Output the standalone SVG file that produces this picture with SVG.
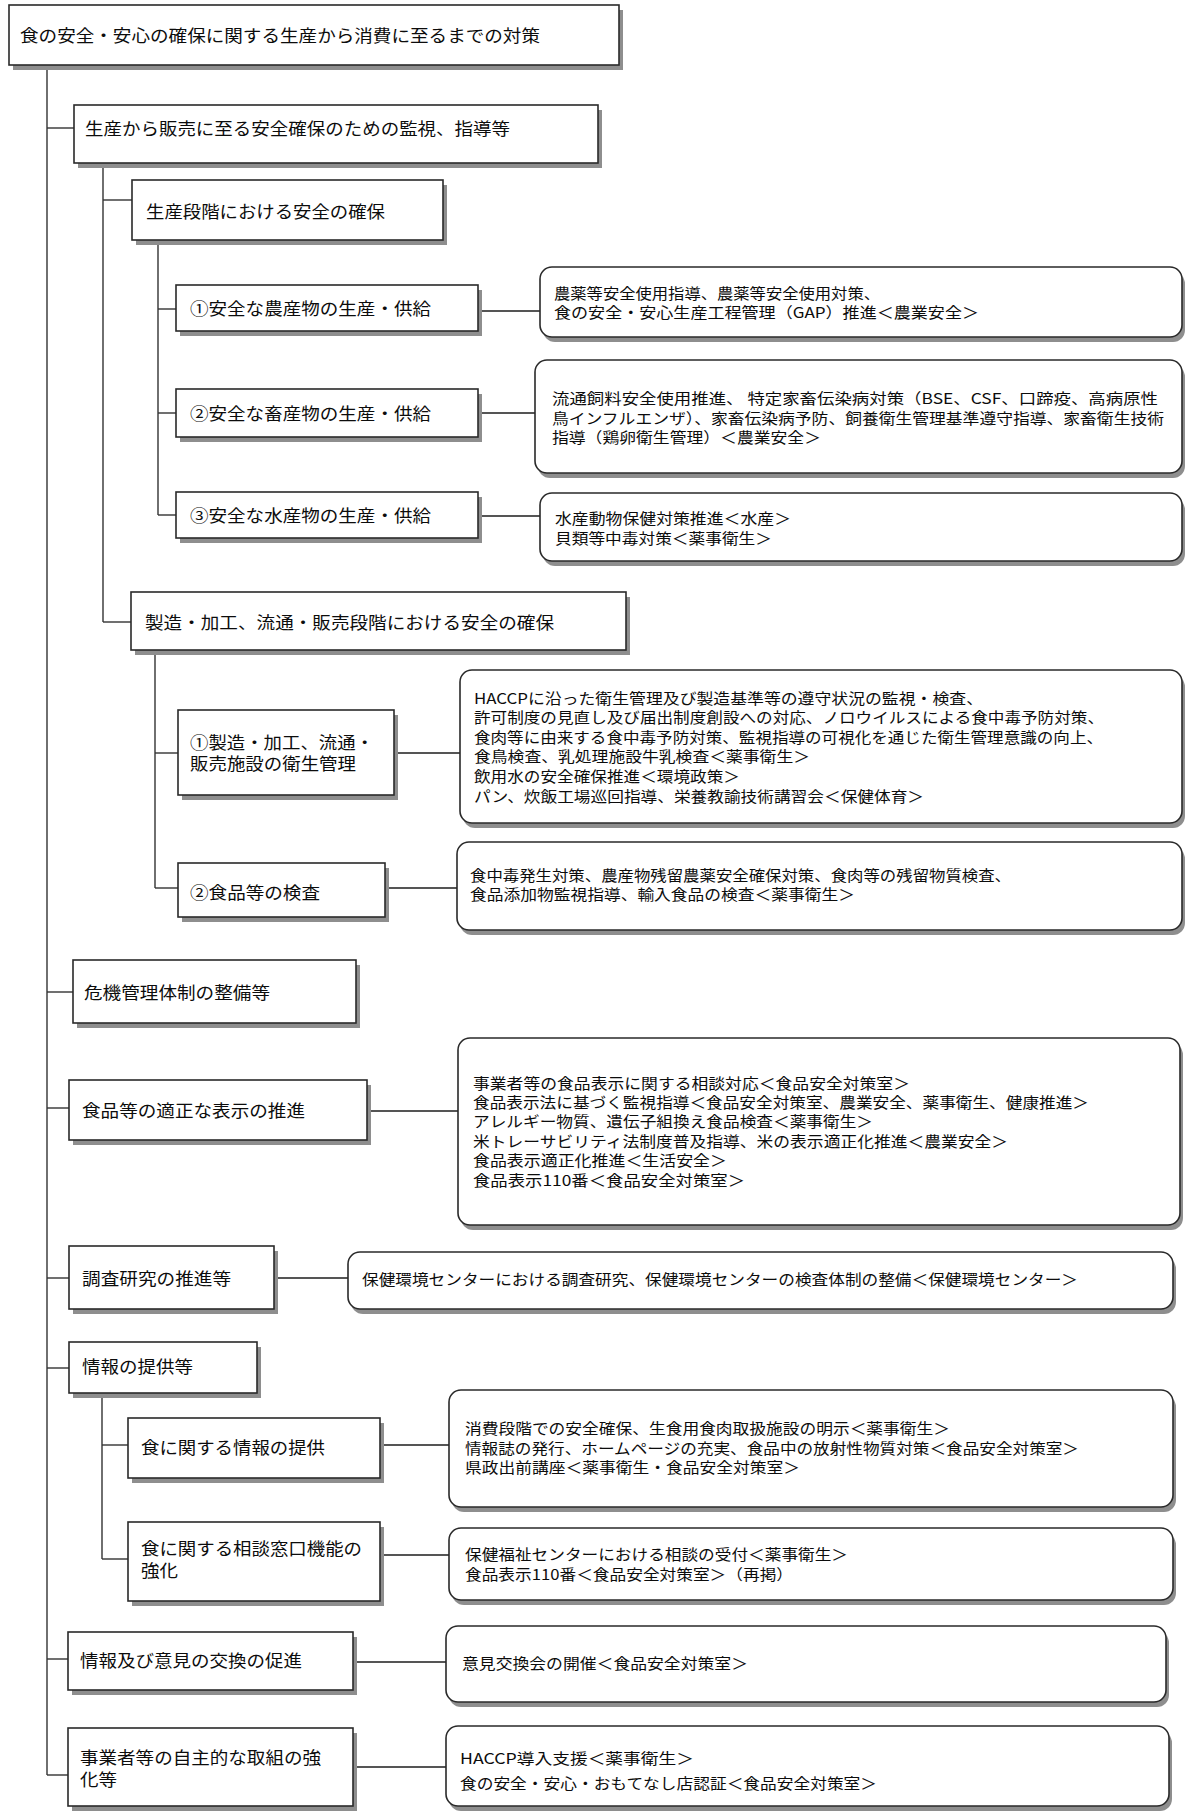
<svg xmlns="http://www.w3.org/2000/svg" width="1186" height="1811" viewBox="0 0 1186 1811">
<defs>
<style>
.bg{fill:#fff}
.sh{fill:#8e8e8e}
.b{fill:#fff;stroke:#2a2a2a;stroke-width:1.6}
.t{font-family:"Noto Sans CJK JP","Noto Sans CJK SC",sans-serif;font-size:16.5px;fill:#0c0c0c;dominant-baseline:central}
.d{font-size:15px}
.c line{stroke:#333;stroke-width:1.4;fill:none}
.c line.g{stroke:#555;stroke-width:2}
</style>
</defs>
<rect class="bg" x="0" y="0" width="1186" height="1811"/>

<g id="connectors" class="c">
<line x1="47" y1="65" x2="47" y2="1775"/>
<line x1="47" y1="128" x2="74" y2="128"/>
<line x1="47" y1="992" x2="73" y2="992"/>
<line x1="47" y1="1108" x2="69" y2="1108"/>
<line x1="47" y1="1278" x2="69" y2="1278"/>
<line x1="47" y1="1368" x2="69" y2="1368"/>
<line x1="47" y1="1659" x2="68" y2="1659"/>
<line x1="47" y1="1775" x2="68" y2="1775"/>
<line x1="103" y1="163" x2="103" y2="622"/>
<line x1="103" y1="200" x2="132" y2="200"/>
<line x1="103" y1="622" x2="131" y2="622"/>
<line x1="158" y1="240" x2="158" y2="515"/>
<line x1="158" y1="309" x2="176" y2="309"/>
<line x1="158" y1="413" x2="176" y2="413"/>
<line x1="158" y1="515" x2="176" y2="515"/>
<line x1="155" y1="650" x2="155" y2="888"/>
<line x1="155" y1="753" x2="178" y2="753"/>
<line x1="155" y1="888" x2="178" y2="888"/>
<line x1="102" y1="1393" x2="102" y2="1559"/>
<line x1="102" y1="1445" x2="128" y2="1445"/>
<line x1="102" y1="1559" x2="128" y2="1559"/>
<line class="g" x1="482" y1="311" x2="540" y2="311"/>
<line class="g" x1="482" y1="413" x2="535" y2="413"/>
<line class="g" x1="482" y1="516" x2="540" y2="516"/>
<line class="g" x1="398" y1="753" x2="460" y2="753"/>
<line class="g" x1="389" y1="888" x2="457" y2="888"/>
<line class="g" x1="371" y1="1111" x2="458" y2="1111"/>
<line class="g" x1="278" y1="1278" x2="348" y2="1278"/>
<line class="g" x1="384" y1="1445" x2="449" y2="1445"/>
<line class="g" x1="384" y1="1555" x2="449" y2="1555"/>
<line class="g" x1="357" y1="1662" x2="446" y2="1662"/>
<line class="g" x1="357" y1="1767" x2="446" y2="1767"/>
</g>

<g id="n0"><rect class="sh" x="13" y="10" width="610" height="60"/><rect class="b" x="9" y="5" width="610" height="60"/>
<text class="t" x="20" y="35" textLength="520" lengthAdjust="spacingAndGlyphs">食の安全・安心の確保に関する生産から消費に至るまでの対策</text></g>

<g id="n1"><rect class="sh" x="78" y="110" width="524" height="58"/><rect class="b" x="74" y="105" width="524" height="58"/>
<text class="t" x="85" y="128" textLength="425" lengthAdjust="spacingAndGlyphs">生産から販売に至る安全確保のための監視、指導等</text></g>

<g id="n2"><rect class="sh" x="136" y="185" width="311" height="60"/><rect class="b" x="132" y="180" width="311" height="60"/>
<text class="t" x="146" y="211" textLength="239" lengthAdjust="spacingAndGlyphs">生産段階における安全の確保</text></g>

<g id="n3"><rect class="sh" x="180" y="290" width="302" height="46"/><rect class="b" x="176" y="285" width="302" height="46"/>
<text class="t" x="190" y="308" textLength="241" lengthAdjust="spacingAndGlyphs">①安全な農産物の生産・供給</text></g>

<g id="n4"><rect class="sh" x="180" y="394" width="302" height="48"/><rect class="b" x="176" y="389" width="302" height="48"/>
<text class="t" x="190" y="413" textLength="241" lengthAdjust="spacingAndGlyphs">②安全な畜産物の生産・供給</text></g>

<g id="n5"><rect class="sh" x="180" y="497" width="302" height="46"/><rect class="b" x="176" y="492" width="302" height="46"/>
<text class="t" x="190" y="515" textLength="241" lengthAdjust="spacingAndGlyphs">③安全な水産物の生産・供給</text></g>

<g id="d1"><rect class="sh" x="543" y="272" width="642" height="70" rx="12"/><rect class="b" x="540" y="267" width="642" height="70" rx="12"/>
<text class="t d" x="554" y="292" textLength="326" lengthAdjust="spacingAndGlyphs">農薬等安全使用指導、農薬等安全使用対策、</text>
<text class="t d" x="554" y="311" textLength="425" lengthAdjust="spacingAndGlyphs">食の安全・安心生産工程管理（GAP）推進＜農業安全＞</text></g>

<g id="d2"><rect class="sh" x="538" y="365" width="647" height="113" rx="12"/><rect class="b" x="535" y="360" width="647" height="113" rx="12"/>
<text class="t d" x="552" y="397" textLength="606" lengthAdjust="spacingAndGlyphs">流通飼料安全使用推進、 特定家畜伝染病対策（BSE、CSF、口蹄疫、高病原性</text>
<text class="t d" x="552" y="417" textLength="612" lengthAdjust="spacingAndGlyphs">鳥インフルエンザ）、家畜伝染病予防、飼養衛生管理基準遵守指導、家畜衛生技術</text>
<text class="t d" x="552" y="436" textLength="269" lengthAdjust="spacingAndGlyphs">指導（鶏卵衛生管理）＜農業安全＞</text></g>

<g id="d3"><rect class="sh" x="543" y="498" width="642" height="68" rx="12"/><rect class="b" x="540" y="493" width="642" height="68" rx="12"/>
<text class="t d" x="555" y="517" textLength="236" lengthAdjust="spacingAndGlyphs">水産動物保健対策推進＜水産＞</text>
<text class="t d" x="555" y="537" textLength="217" lengthAdjust="spacingAndGlyphs">貝類等中毒対策＜薬事衛生＞</text></g>

<g id="n6"><rect class="sh" x="135" y="597" width="495" height="58"/><rect class="b" x="131" y="592" width="495" height="58"/>
<text class="t" x="145" y="622" textLength="409" lengthAdjust="spacingAndGlyphs">製造・加工、流通・販売段階における安全の確保</text></g>

<g id="n7"><rect class="sh" x="182" y="715" width="216" height="85"/><rect class="b" x="178" y="710" width="216" height="85"/>
<text class="t" x="190" y="742" textLength="184" lengthAdjust="spacingAndGlyphs">①製造・加工、流通・</text>
<text class="t" x="190" y="763" textLength="166" lengthAdjust="spacingAndGlyphs">販売施設の衛生管理</text></g>

<g id="d4"><rect class="sh" x="463" y="675" width="722" height="153" rx="12"/><rect class="b" x="460" y="670" width="722" height="153" rx="12"/>
<text class="t d" x="474" y="697" textLength="509" lengthAdjust="spacingAndGlyphs">HACCPに沿った衛生管理及び製造基準等の遵守状況の監視・検査、</text>
<text class="t d" x="474" y="716.6" textLength="630" lengthAdjust="spacingAndGlyphs">許可制度の見直し及び届出制度創設への対応、ノロウイルスによる食中毒予防対策、</text>
<text class="t d" x="474" y="736.2" textLength="629" lengthAdjust="spacingAndGlyphs">食肉等に由来する食中毒予防対策、監視指導の可視化を通じた衛生管理意識の向上、</text>
<text class="t d" x="474" y="755.8" textLength="336" lengthAdjust="spacingAndGlyphs">食鳥検査、乳処理施設牛乳検査＜薬事衛生＞</text>
<text class="t d" x="474" y="775.4" textLength="266" lengthAdjust="spacingAndGlyphs">飲用水の安全確保推進＜環境政策＞</text>
<text class="t d" x="474" y="795" textLength="450" lengthAdjust="spacingAndGlyphs">パン、炊飯工場巡回指導、栄養教諭技術講習会＜保健体育＞</text></g>

<g id="n8"><rect class="sh" x="182" y="868" width="207" height="54"/><rect class="b" x="178" y="863" width="207" height="54"/>
<text class="t" x="190" y="892" textLength="130" lengthAdjust="spacingAndGlyphs">②食品等の検査</text></g>

<g id="d5"><rect class="sh" x="460" y="847" width="725" height="88" rx="12"/><rect class="b" x="457" y="842" width="725" height="88" rx="12"/>
<text class="t d" x="470" y="874" textLength="541" lengthAdjust="spacingAndGlyphs">食中毒発生対策、農産物残留農薬安全確保対策、食肉等の残留物質検査、</text>
<text class="t d" x="470" y="893" textLength="385" lengthAdjust="spacingAndGlyphs">食品添加物監視指導、輸入食品の検査＜薬事衛生＞</text></g>

<g id="n9"><rect class="sh" x="77" y="965" width="283" height="63"/><rect class="b" x="73" y="960" width="283" height="63"/>
<text class="t" x="84" y="992" textLength="186" lengthAdjust="spacingAndGlyphs">危機管理体制の整備等</text></g>

<g id="n10"><rect class="sh" x="73" y="1085" width="298" height="60"/><rect class="b" x="69" y="1080" width="298" height="60"/>
<text class="t" x="82" y="1110" textLength="223" lengthAdjust="spacingAndGlyphs">食品等の適正な表示の推進</text></g>

<g id="d6"><rect class="sh" x="461" y="1043" width="722" height="187" rx="12"/><rect class="b" x="458" y="1038" width="722" height="187" rx="12"/>
<text class="t d" x="473" y="1082" textLength="437" lengthAdjust="spacingAndGlyphs">事業者等の食品表示に関する相談対応＜食品安全対策室＞</text>
<text class="t d" x="473" y="1101.4" textLength="616" lengthAdjust="spacingAndGlyphs">食品表示法に基づく監視指導＜食品安全対策室、農業安全、薬事衛生、健康推進＞</text>
<text class="t d" x="473" y="1120.8" textLength="400" lengthAdjust="spacingAndGlyphs">アレルギー物質、遺伝子組換え食品検査＜薬事衛生＞</text>
<text class="t d" x="473" y="1140.2" textLength="535" lengthAdjust="spacingAndGlyphs">米トレーサビリティ法制度普及指導、米の表示適正化推進＜農業安全＞</text>
<text class="t d" x="473" y="1159.6" textLength="254" lengthAdjust="spacingAndGlyphs">食品表示適正化推進＜生活安全＞</text>
<text class="t d" x="473" y="1179" textLength="272" lengthAdjust="spacingAndGlyphs">食品表示110番＜食品安全対策室＞</text></g>

<g id="n11"><rect class="sh" x="73" y="1251" width="205" height="63"/><rect class="b" x="69" y="1246" width="205" height="63"/>
<text class="t" x="82" y="1278" textLength="149" lengthAdjust="spacingAndGlyphs">調査研究の推進等</text></g>

<g id="d7"><rect class="sh" x="351" y="1257" width="825" height="57" rx="12"/><rect class="b" x="348" y="1252" width="825" height="57" rx="12"/>
<text class="t d" x="362" y="1278" textLength="716" lengthAdjust="spacingAndGlyphs">保健環境センターにおける調査研究、保健環境センターの検査体制の整備＜保健環境センター＞</text></g>

<g id="n12"><rect class="sh" x="73" y="1347" width="188" height="51"/><rect class="b" x="69" y="1342" width="188" height="51"/>
<text class="t" x="82" y="1366" textLength="111" lengthAdjust="spacingAndGlyphs">情報の提供等</text></g>

<g id="n13"><rect class="sh" x="132" y="1423" width="252" height="60"/><rect class="b" x="128" y="1418" width="252" height="60"/>
<text class="t" x="141" y="1447" textLength="184" lengthAdjust="spacingAndGlyphs">食に関する情報の提供</text></g>

<g id="d8"><rect class="sh" x="452" y="1395" width="724" height="117" rx="12"/><rect class="b" x="449" y="1390" width="724" height="117" rx="12"/>
<text class="t d" x="465" y="1427" textLength="485" lengthAdjust="spacingAndGlyphs">消費段階での安全確保、生食用食肉取扱施設の明示＜薬事衛生＞</text>
<text class="t d" x="465" y="1447" textLength="614" lengthAdjust="spacingAndGlyphs">情報誌の発行、ホームページの充実、食品中の放射性物質対策＜食品安全対策室＞</text>
<text class="t d" x="465" y="1466.5" textLength="335" lengthAdjust="spacingAndGlyphs">県政出前講座＜薬事衛生・食品安全対策室＞</text></g>

<g id="n14"><rect class="sh" x="132" y="1527" width="252" height="79"/><rect class="b" x="128" y="1522" width="252" height="79"/>
<text class="t" x="141" y="1548" textLength="221" lengthAdjust="spacingAndGlyphs">食に関する相談窓口機能の</text>
<text class="t" x="141" y="1570" textLength="37" lengthAdjust="spacingAndGlyphs">強化</text></g>

<g id="d9"><rect class="sh" x="452" y="1533" width="724" height="72" rx="12"/><rect class="b" x="449" y="1528" width="724" height="72" rx="12"/>
<text class="t d" x="465" y="1553" textLength="383" lengthAdjust="spacingAndGlyphs">保健福祉センターにおける相談の受付＜薬事衛生＞</text>
<text class="t d" x="465" y="1573" textLength="328" lengthAdjust="spacingAndGlyphs">食品表示110番＜食品安全対策室＞（再掲）</text></g>

<g id="n15"><rect class="sh" x="72" y="1637" width="285" height="58"/><rect class="b" x="68" y="1632" width="285" height="58"/>
<text class="t" x="80" y="1660" textLength="222" lengthAdjust="spacingAndGlyphs">情報及び意見の交換の促進</text></g>

<g id="d10"><rect class="sh" x="449" y="1631" width="720" height="76" rx="12"/><rect class="b" x="446" y="1626" width="720" height="76" rx="12"/>
<text class="t d" x="462" y="1662" textLength="286" lengthAdjust="spacingAndGlyphs">意見交換会の開催＜食品安全対策室＞</text></g>

<g id="n16"><rect class="sh" x="72" y="1733" width="285" height="78"/><rect class="b" x="68" y="1728" width="285" height="78"/>
<text class="t" x="80" y="1757" textLength="241" lengthAdjust="spacingAndGlyphs">事業者等の自主的な取組の強</text>
<text class="t" x="80" y="1779" textLength="37" lengthAdjust="spacingAndGlyphs">化等</text></g>

<g id="d11"><rect class="sh" x="449" y="1731" width="723" height="80" rx="12"/><rect class="b" x="446" y="1726" width="723" height="80" rx="12"/>
<text class="t d" x="460" y="1757" textLength="234" lengthAdjust="spacingAndGlyphs">HACCP導入支援＜薬事衛生＞</text>
<text class="t d" x="460" y="1782" textLength="417" lengthAdjust="spacingAndGlyphs">食の安全・安心・おもてなし店認証＜食品安全対策室＞</text></g>
</svg>
